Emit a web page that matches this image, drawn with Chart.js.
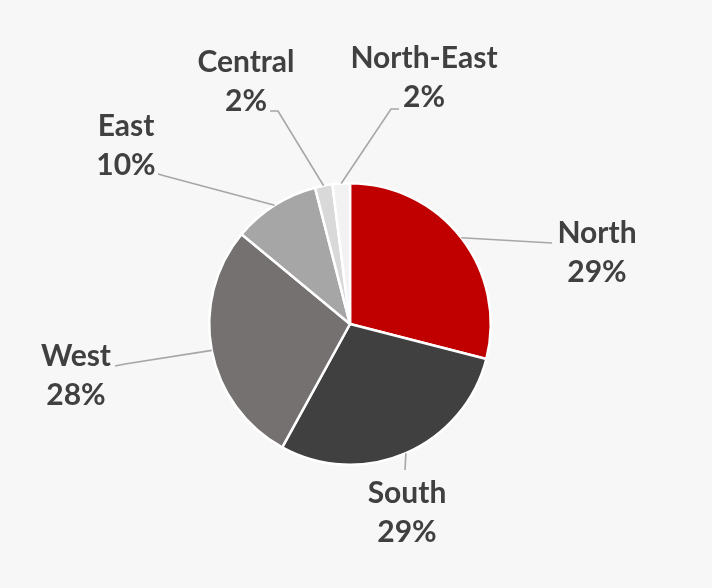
<!DOCTYPE html>
<html>
<head>
<meta charset="utf-8">
<script src="https://cdn.jsdelivr.net/npm/chart.js@4"></script>
<style>
  html, body { margin: 0; padding: 0; background: #F7F7F7; }
  #wrap { width: 712px; height: 588px; position: relative; }
</style>
</head>
<body>
<div id="wrap"><canvas id="c" width="712" height="588"></canvas></div>
<script>
// ---- data ----
const categories = ['North', 'South', 'West', 'East', 'Central', 'North-East'];
const shares = [29, 29, 28, 10, 2, 2];
const sliceColors = ['#C00000', '#404040', '#767171', '#A6A6A6', '#D9D9D9', '#F2F2F2'];

// ---- label layout (pixel offsets from pie centre: text centre of first line, leader polyline end points) ----
const labelLayout = [
  { tx: 247, ty: -91, leader: [[202, -81]] },
  { tx: 57, ty: 169, leader: [[55, 146]] },
  { tx: -274, ty: 32, leader: [[-225, 40], [-235, 42]] },
  { tx: -224, ty: -198, leader: [[-185, -148], [-192, -150]] },
  { tx: -104, ty: -262, leader: [[-72, -213], [-80, -213]] },
  { tx: 74, ty: -266, leader: [[41, -215], [49, -215]] }
];

const leaderPlugin = {
  id: 'leaders',
  afterDatasetsDraw(chart) {
    const ctx = chart.ctx;
    const meta = chart.getDatasetMeta(0);
    const total = shares.reduce((a, b) => a + b, 0);
    meta.data.forEach((arc, i) => {
      const p = arc.getProps(['x', 'y', 'startAngle', 'endAngle', 'outerRadius'], true);
      const mid = (p.startAngle + p.endAngle) / 2;
      const sx = p.x + Math.cos(mid) * p.outerRadius;
      const sy = p.y + Math.sin(mid) * p.outerRadius;
      const L = labelLayout[i];
      ctx.save();
      ctx.strokeStyle = '#A6A6A6';
      ctx.lineWidth = 1.6;
      ctx.beginPath();
      ctx.moveTo(sx, sy);
      L.leader.forEach(pt => ctx.lineTo(p.x + pt[0], p.y + pt[1]));
      ctx.stroke();
      ctx.fillStyle = '#404040';
      ctx.font = 'bold 30px Lato';
      ctx.textAlign = 'center';
      ctx.textBaseline = 'middle';
      const cx = p.x + L.tx, cy = p.y + L.ty;
      ctx.fillText(categories[i], cx, cy);
      ctx.fillText(Math.round(shares[i] / total * 100) + '%', cx, cy + 39);
      ctx.restore();
    });
  }
};

new Chart(document.getElementById('c'), {
  type: 'pie',
  data: {
    labels: categories,
    datasets: [{
      data: shares,
      backgroundColor: sliceColors,
      borderColor: '#FFFFFF',
      borderWidth: 2.5
    }]
  },
  options: {
    responsive: false,
    animation: false,
    layout: { padding: { left: 208, right: 220, top: 182, bottom: 122 } },
    plugins: {
      legend: { display: false },
      tooltip: { enabled: false }
    }
  },
  plugins: [leaderPlugin]
});
</script>
</body>
</html>
